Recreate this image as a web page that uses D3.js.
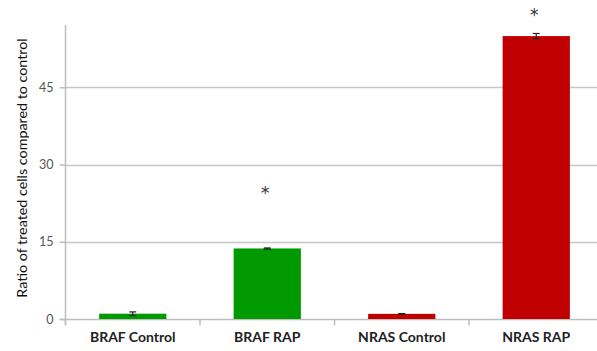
<!DOCTYPE html>
<html>
<head>
<meta charset="utf-8">
<script src="https://cdn.jsdelivr.net/npm/d3@7"></script>
<style>
  html, body { margin: 0; padding: 0; background: #fff; }
  svg { display: block; }
</style>
</head>
<body>
<svg id="chart" width="597" height="351"></svg>
<script>
// Ratio of treated cells vs. control, per cell line and treatment
const categories = ["BRAF Control", "BRAF RAP", "NRAS Control", "NRAS RAP"];
const ratios = [1.03, 13.7, 1.0, 54.95];
const errors = [0.35, 0.1, 0.06, 0.5];
// significance marks: category and the height (in ratio units) where the asterisk sits
const starCategories = ["BRAF RAP", "NRAS RAP"];
const starLevels = [25.2, 59.8];
const barColors = ["#009900", "#009900", "#c00000", "#c00000"];
const yTicks = [0, 15, 30, 45];
const yMax = 57.1;

const svg = d3.select("#chart");
const font = "Lato, 'Open Sans', sans-serif";

const x = d3.scaleBand().domain(categories).range([65.5, 603.5]).paddingInner(0.5).paddingOuter(0.25);
const y = d3.scaleLinear().domain([0, yMax]).range([319, 25]);

// horizontal gridlines
svg.append("g").selectAll("line").data(yTicks.filter(d => d > 0)).join("line")
  .attr("x1", 65.5).attr("x2", 597)
  .attr("y1", d => Math.round(y(d)) + 0.5).attr("y2", d => Math.round(y(d)) + 0.5)
  .attr("stroke", "#c6c6c6").attr("stroke-width", 1.5);

// y axis
const yAxis = svg.append("g").attr("transform", "translate(65.5,0)")
  .call(d3.axisLeft(y).tickValues(yTicks).tickSize(6).tickPadding(6).tickFormat(d3.format("d")));
yAxis.select(".domain").attr("stroke", "#bdbdbd").attr("stroke-width", 1.5).attr("d", `M-0,${y(yMax)}V${y(0) + 6}`);
yAxis.selectAll(".tick line").attr("stroke", "#bdbdbd").attr("stroke-width", 1.5);
yAxis.selectAll(".tick text").attr("fill", "#555").style("font-family", font).style("font-size", "12.5px");

// x axis with ticks at category boundaries
const step = x.step();
const xAxisG = svg.append("g");
xAxisG.append("line").attr("x1", 60).attr("x2", 597).attr("y1", 319.5).attr("y2", 319.5)
  .attr("stroke", "#bdbdbd").attr("stroke-width", 1.5);
xAxisG.selectAll("line.tk").data(d3.range(categories.length + 1)).join("line").attr("class", "tk")
  .attr("x1", i => 65.5 + i * step).attr("x2", i => 65.5 + i * step)
  .attr("y1", 319.5).attr("y2", 325.5)
  .attr("stroke", "#bdbdbd").attr("stroke-width", 1.5);
xAxisG.selectAll("text").data(categories).join("text")
  .attr("x", d => x(d) + x.bandwidth() / 2).attr("y", 341.5)
  .attr("text-anchor", "middle")
  .attr("fill", "#222").style("font-family", font).style("font-size", "14px").style("font-weight", "bold")
  .text(d => d);

// bars
svg.append("g").selectAll("rect").data(categories).join("rect")
  .attr("x", d => x(d)).attr("width", x.bandwidth())
  .attr("y", (d, i) => y(ratios[i])).attr("height", (d, i) => y(0) - y(ratios[i]))
  .attr("fill", (d, i) => barColors[i]);

// error bars
const eb = svg.append("g").attr("stroke", "#222").attr("stroke-width", 1.2);
categories.forEach((c, i) => {
  const cx = x(c) + x.bandwidth() / 2;
  const lo = y(ratios[i] - errors[i]), hi = y(ratios[i] + errors[i]);
  eb.append("line").attr("x1", cx).attr("x2", cx).attr("y1", lo).attr("y2", hi);
  eb.append("line").attr("x1", cx - 3.5).attr("x2", cx + 3.5).attr("y1", lo).attr("y2", lo);
  eb.append("line").attr("x1", cx - 3.5).attr("x2", cx + 3.5).attr("y1", hi).attr("y2", hi);
});

// significance markers (asterisk glyph centred on its level)
svg.append("g").selectAll("text").data(starCategories).join("text")
  .attr("x", d => x(d) + x.bandwidth() / 2 - 2)
  .attr("y", (d, i) => y(starLevels[i]) + 9.5)
  .attr("text-anchor", "middle")
  .attr("fill", "#333").style("font-family", "'DejaVu Sans', sans-serif").style("font-size", "17px")
  .text("*");

// y axis title
svg.append("text")
  .attr("transform", "translate(27,168) rotate(-90)")
  .attr("text-anchor", "middle")
  .attr("fill", "#111").style("font-family", font).style("font-size", "14.3px")
  .text("Ratio of treated cells compared to control");
</script>
</body>
</html>
